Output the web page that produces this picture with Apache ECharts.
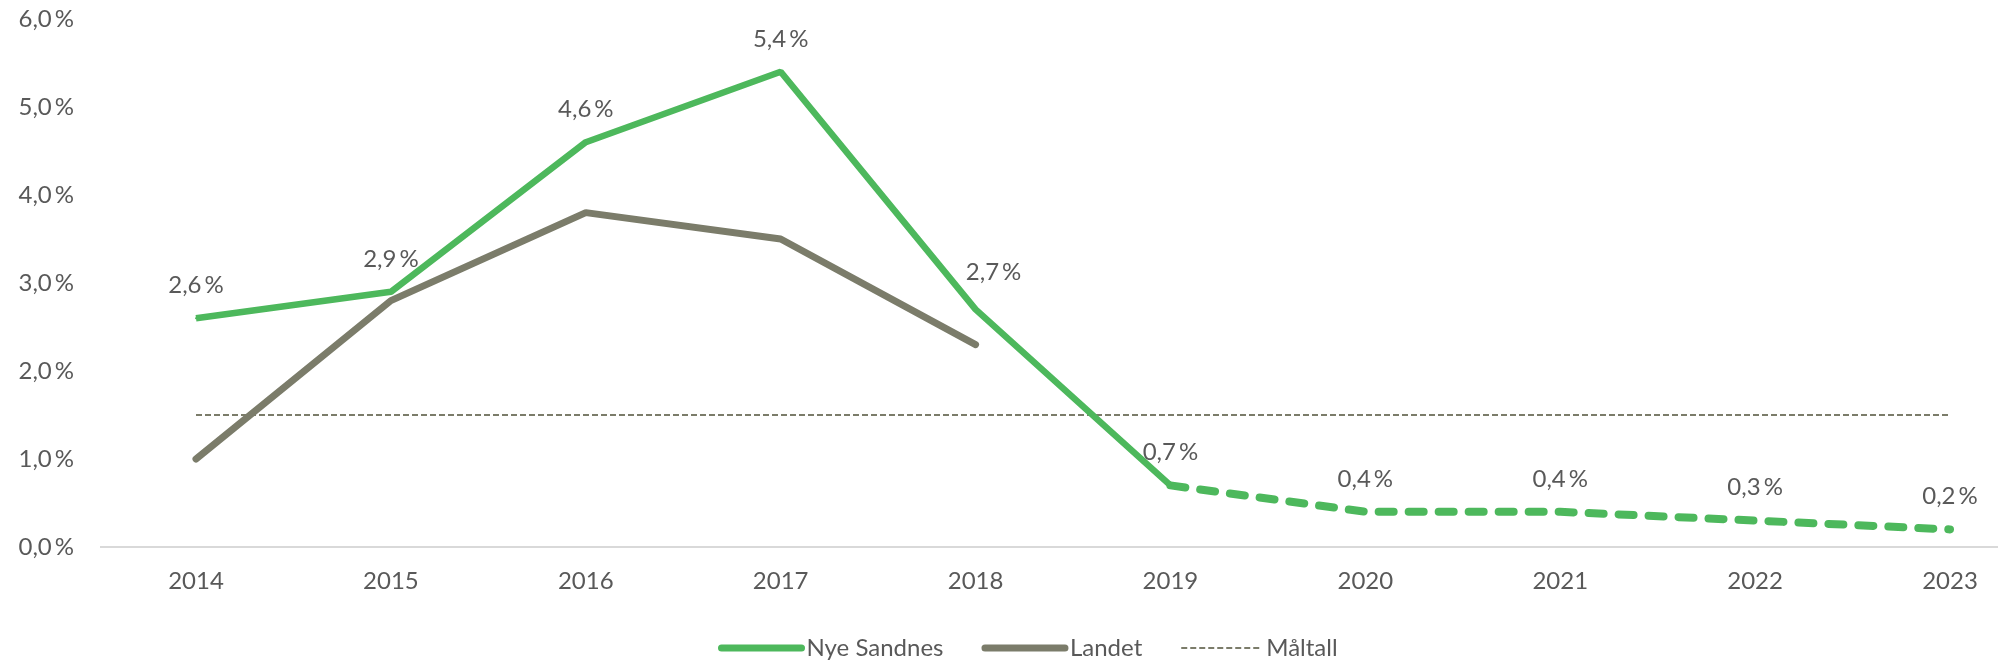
<!DOCTYPE html>
<html>
<head>
<meta charset="utf-8">
<script src="https://cdn.jsdelivr.net/npm/echarts@6/dist/echarts.min.js"></script>
<style>
  html, body { margin: 0; padding: 0; background: #fff; }
  #chart { width: 1998px; height: 669px; }
</style>
</head>
<body>
<div id="chart"></div>
<script>
// chart data
var years = ['2014', '2015', '2016', '2017', '2018', '2019', '2020', '2021', '2022', '2023'];
var nyeSandnes = [2.6, 2.9, 4.6, 5.4, 2.7, 0.7, 0.4, 0.4, 0.3, 0.2];
var landet = [1.0, 2.8, 3.8, 3.5, 2.3];
var maltall = [1.5, 1.5, 1.5, 1.5, 1.5, 1.5, 1.5, 1.5, 1.5, 1.5];
var lastActualIndex = 5; // 2019: solid line ends here, dashed forecast after

var GREEN = '#4DB85C';
var GREY = '#7B7C6A';
var TEXT = '#595959';
var FONT = 'Lato, "Open Sans", sans-serif';

function fmtPct(v) {
  return v.toFixed(1).replace('.', ',') + '\u2009%';
}

// split Nye Sandnes into solid (actual) and dashed (forecast) parts
var solidPart = nyeSandnes.map(function (v, i) { return i <= lastActualIndex ? v : null; });
var dashedPart = nyeSandnes.map(function (v, i) { return i >= lastActualIndex ? v : null; });

var labelData = solidPart.map(function (v, i) {
  if (v === null) return null;
  // the 2018 label sits a bit to the right in the original
  if (years[i] === '2018') return { value: v, label: { offset: [18, -4] } };
  return v;
});
var dashedData = dashedPart.map(function (v, i) {
  if (v === null) return null;
  return { value: v, label: { show: i > lastActualIndex } };
});

var theChart = echarts.init(document.getElementById('chart'));

var dataLabel = {
  show: true,
  position: 'top',
  distance: 20,
  color: TEXT,
  fontFamily: FONT,
  fontSize: 24,
  formatter: function (p) { return fmtPct(p.value); }
};

var option = {
  animation: false,
  textStyle: { fontFamily: FONT },
  grid: { left: 196, right: 48, top: 19, bottom: 122 },
  legend: {
    left: 713,
    bottom: 4,
    itemWidth: 80,
    itemHeight: 14,
    itemGap: 38,
    data: [
      { name: 'Nye Sandnes', lineStyle: { width: 7, cap: 'round' } },
      { name: 'Landet', lineStyle: { width: 7, cap: 'round' } },
      { name: 'Måltall', lineStyle: { width: 2 } }
    ],
    itemStyle: { opacity: 0 },
    textStyle: { color: TEXT, fontSize: 24, fontFamily: FONT }
  },
  xAxis: {
    type: 'category',
    data: years,
    boundaryGap: false,
    axisLine: { show: false },
    axisTick: { show: false },
    axisLabel: { color: TEXT, fontSize: 24, fontFamily: FONT, margin: 22 }
  },
  yAxis: {
    type: 'value',
    min: 0,
    max: 6,
    interval: 1,
    splitLine: { show: false },
    axisLine: { show: false },
    axisTick: { show: false },
    axisLabel: {
      color: TEXT, fontSize: 24, fontFamily: FONT, margin: 122,
      formatter: function (v) { return fmtPct(v); }
    }
  },
  graphic: [{
    type: 'line',
    z: 0,
    shape: { x1: 100, y1: 547, x2: 1998, y2: 547 },
    style: { stroke: '#D9D9D9', lineWidth: 2 }
  }],
  series: [
    {
      name: 'Nye Sandnes',
      type: 'line',
      data: labelData,
      symbol: 'circle',
      symbolSize: 2,
      itemStyle: { color: GREEN },
      lineStyle: { color: GREEN, width: 6.5 },
      label: dataLabel,
      z: 4
    },
    {
      name: 'Nye Sandnes',
      type: 'line',
      data: dashedData,
      symbol: 'circle',
      symbolSize: 2,
      itemStyle: { color: GREEN },
      lineStyle: { color: GREEN, width: 8, type: [15, 15], cap: 'round' },
      label: dataLabel,
      z: 4
    },
    {
      name: 'Landet',
      type: 'line',
      data: landet,
      symbol: 'circle',
      symbolSize: 2,
      itemStyle: { color: GREY },
      lineStyle: { color: GREY, width: 7, cap: 'round' },
      z: 3
    },
    {
      name: 'Måltall',
      type: 'line',
      data: maltall,
      symbol: 'none',
      itemStyle: { color: GREY },
      lineStyle: { color: GREY, width: 2, type: [6, 3] },
      z: 2
    }
  ]
};

theChart.setOption(option);
</script>
</body>
</html>
